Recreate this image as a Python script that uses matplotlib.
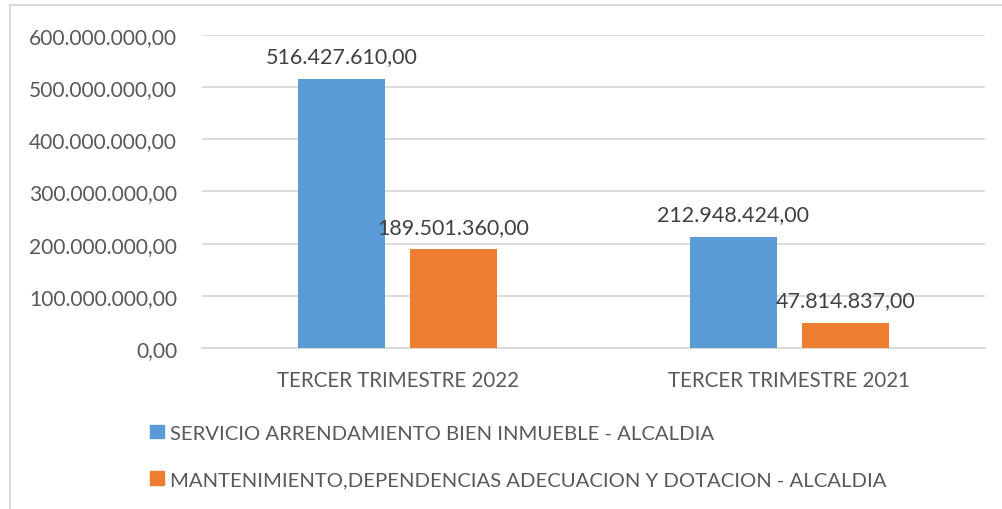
import matplotlib
matplotlib.use('Agg')
import matplotlib.pyplot as plt
import numpy as np
from matplotlib.lines import Line2D
from matplotlib.patches import Patch

# Datos
categorias = ['TERCER TRIMESTRE 2022', 'TERCER TRIMESTRE 2021']
serie_arrendamiento = [516427610.00, 212948424.00]
serie_mantenimiento = [189501360.00, 47814837.00]
nombres_series = ['SERVICIO ARRENDAMIENTO BIEN INMUEBLE - ALCALDIA',
                  'MANTENIMIENTO,DEPENDENCIAS ADECUACION Y DOTACION - ALCALDIA']
yticks = [0, 100000000, 200000000, 300000000, 400000000, 500000000, 600000000]


def formato_es(v):
    # 1,234.56 -> 1.234,56
    s = f"{v:,.2f}"
    return s.replace(',', 'X').replace('.', ',').replace('X', '.')


plt.rcParams['font.family'] = ['Lato', 'DejaVu Sans']
AZUL = '#5B9BD5'
NARANJA = '#ED7D31'
GRIS_TXT = '#595959'
GRIS_LIN = '#D9D9D9'

fig = plt.figure(figsize=(10.03, 5.10), dpi=100)
ax = fig.add_axes([0.2014, 0.3157, 0.7806, 0.6137])

x = np.arange(len(categorias))
ancho = 0.222
desp = 0.143
b1 = ax.bar(x - desp, serie_arrendamiento, ancho, color=AZUL, label=nombres_series[0], zorder=3)
b2 = ax.bar(x + desp, serie_mantenimiento, ancho, color=NARANJA, label=nombres_series[1], zorder=3)

for barras, vals in ((b1, serie_arrendamiento), (b2, serie_mantenimiento)):
    ax.bar_label(barras, labels=[formato_es(v) for v in vals], padding=9,
                 fontsize=15.5, color='#404040')

ax.set_xlim(-0.5, 1.5)
ax.set_ylim(0, 600000000)
ax.set_yticks(yticks)
ax.set_yticklabels([formato_es(v) for v in yticks])
ax.set_xticks(x)
ax.set_xticklabels(categorias)
ax.tick_params(axis='both', length=0, colors=GRIS_TXT)
ax.tick_params(axis='y', pad=18, labelsize=15.1)
ax.tick_params(axis='x', pad=16, labelsize=14.8)
ax.grid(axis='y', color=GRIS_LIN, linewidth=1.3, zorder=0)
for lado in ['top', 'right', 'left']:
    ax.spines[lado].set_visible(False)
ax.spines['bottom'].set_color(GRIS_LIN)
ax.spines['bottom'].set_linewidth(1.3)

# Leyenda abajo, una entrada por fila
handles = [Patch(color=AZUL), Patch(color=NARANJA)]
fig.legend(handles, nombres_series, loc='upper left', bbox_to_anchor=(0.150, 0.165),
           ncol=1, frameon=False, fontsize=14.6, labelcolor=GRIS_TXT,
           handlelength=0.65, handleheight=0.65, handletextpad=0.3,
           labelspacing=1.45, borderaxespad=0, borderpad=0)

# Marco del grafico (borde izquierdo y superior)
fig.add_artist(Line2D([10 / 1003, 10 / 1003], [0, 1 - 6 / 510], transform=fig.transFigure,
                      color=GRIS_LIN, linewidth=1.5))
fig.add_artist(Line2D([10 / 1003, 1], [1 - 6 / 510, 1 - 6 / 510], transform=fig.transFigure,
                      color=GRIS_LIN, linewidth=1.5))

plt.savefig('out.png', dpi=100)
